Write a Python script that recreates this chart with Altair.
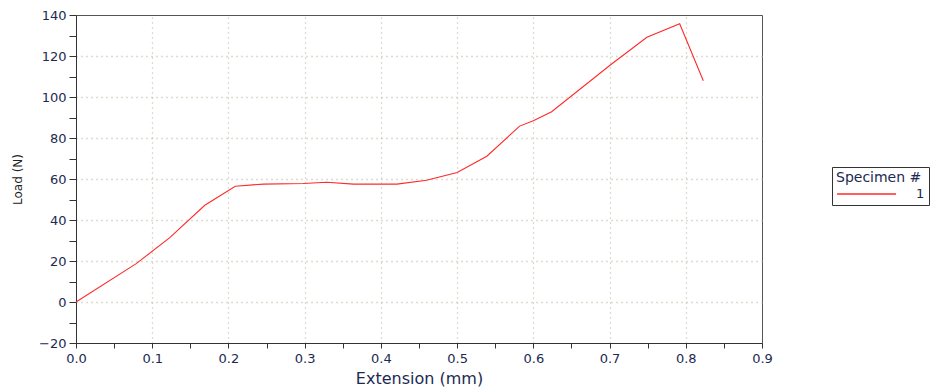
import altair as alt
import pandas as pd

extension = [0.0, 0.079, 0.123, 0.169, 0.209, 0.246, 0.298, 0.329, 0.364, 0.421,
             0.460, 0.500, 0.539, 0.582, 0.600, 0.624, 0.701, 0.749, 0.792, 0.823]
load = [0.0, 18.7, 31.4, 47.2, 56.5, 57.5, 57.8, 58.4, 57.5, 57.5,
        59.4, 63.2, 71.1, 85.8, 88.4, 92.8, 115.6, 129.1, 135.7, 107.9]
specimen = ["1"] * len(extension)

x_ticks = [round(i * 0.05, 2) for i in range(0, 19)]
x_grid = [round(i * 0.1, 1) for i in range(1, 9)]
y_ticks = list(range(-20, 141, 10))
y_grid = list(range(0, 121, 20))

df = pd.DataFrame({"Extension": extension, "Load": load, "Specimen #": specimen})

FONT = "DejaVu Sans"
LABEL_COLOR = "#1c2a52"
GRID_COLOR = "#b9b9a0"

xscale = alt.Scale(domain=[0, 0.9], nice=False, zero=False)
yscale = alt.Scale(domain=[-20, 140], nice=False, zero=False)

grid = alt.Chart(df).mark_line(opacity=0).encode(
    x=alt.X("Extension:Q", scale=xscale,
            axis=alt.Axis(orient="top", values=x_grid, grid=True, labels=False, ticks=False,
                          domain=False, title=None, gridColor=GRID_COLOR,
                          gridDash=[1, 4], gridWidth=1.3, gridOpacity=1)),
    y=alt.Y("Load:Q", scale=yscale,
            axis=alt.Axis(orient="right", values=y_grid, grid=True, labels=False, ticks=False,
                          domain=False, title=None, gridColor=GRID_COLOR,
                          gridDash=[1, 4], gridWidth=1.3, gridOpacity=1)),
)

line = alt.Chart(df).mark_line(strokeWidth=1.1).encode(
    x=alt.X("Extension:Q", scale=xscale,
            axis=alt.Axis(values=x_ticks, grid=False,
                          labelExpr="(round(datum.value*100) % 10 == 0) ? format(datum.value, '.1f') : ''",
                          title="Extension (mm)", titleFont=FONT, titleFontSize=16,
                          titleFontWeight="normal", titleColor="#1c2a52", titlePadding=5,
                          labelFont=FONT, labelFontSize=13, labelColor=LABEL_COLOR,
                          labelPadding=4, tickSize=5, tickColor="#333333",
                          domainColor="#333333", labelFlush=False, labelOverlap=False)),
    y=alt.Y("Load:Q", scale=yscale,
            axis=alt.Axis(values=y_ticks, grid=False,
                          labelExpr="(datum.value % 20 == 0) ? format(datum.value, 'd') : ''",
                          title="Load (N)", titleFont=FONT, titleFontSize=12,
                          titleFontWeight="normal", titleColor="#222222", titlePadding=14,
                          labelFont=FONT, labelFontSize=13, labelColor=LABEL_COLOR,
                          labelPadding=3, tickSize=7, tickColor="#333333",
                          domainColor="#333333", labelFlush=False, labelOverlap=False)),
    color=alt.Color("Specimen #:N", scale=alt.Scale(range=["#ff2a2a"]),
                    legend=alt.Legend(orient="none", legendX=756, legendY=152,
                                      symbolType="M-1,0H9", symbolSize=139,
                                      symbolStrokeWidth=1.3,
                                      strokeColor="#333333", padding=4,
                                      titleFont=FONT, titleFontSize=14,
                                      titleFontWeight="normal", titleColor="#1c2a52",
                                      labelFont=FONT, labelFontSize=13,
                                      labelColor="#1c2a52", labelOffset=66,
                                      titlePadding=2)),
)

chart = alt.layer(grid, line).resolve_axis(x="independent", y="independent").properties(
    width=686, height=328,
    autosize=alt.AutoSizeParams(type="none"),
    padding={"left": 76, "top": 15, "right": 175, "bottom": 44},
    background="white",
).configure_view(stroke="#555555", strokeWidth=1)

chart.save("out.html", embed_options={"renderer": "svg", "actions": False})
